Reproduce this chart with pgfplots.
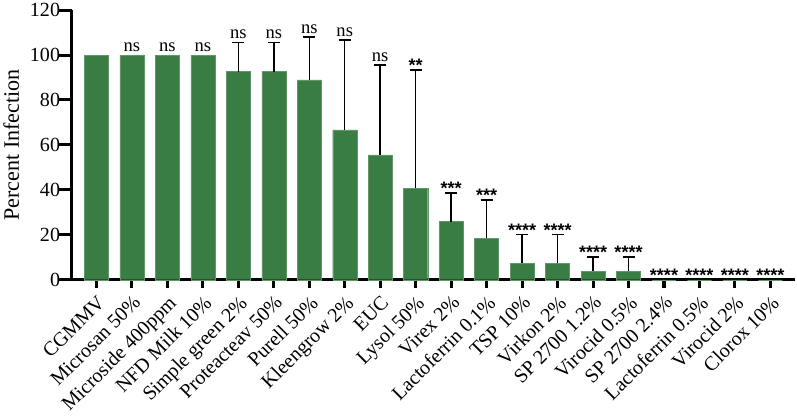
\documentclass[border=0pt]{standalone}
\usepackage{pgfplots}
\pgfplotsset{compat=1.18}
\usepackage{fontspec}
\setmainfont{Liberation Serif}
\newfontfamily\starfont{Liberation Sans}
\definecolor{barg}{RGB}{58,125,68}
\begin{document}
\begin{tikzpicture}
\begin{axis}[
 scale only axis, width=722pt, height=269pt,
 xmin=-0.7, xmax=19.7, ymin=0, ymax=120,
 axis x line*=bottom, axis y line*=left,
 axis line style={line width=3.5pt,-},
 ytick={0,20,...,120},
 xtick={0,...,19},
 xticklabels={CGMMV, Microsan 50\%, Microside 400ppm, NFD Milk 10\%, Simple green 2\%, Proteacteav 50\%, Purell 50\%, Kleengrow 2\%, EUC, Lysol 50\%, Virex 2\%, Lactoferrin 0.1\%, TSP 10\%, Virkon 2\%, SP 2700 1.2\%, Virocid 0.5\%, SP 2700 2.4\%, Lactoferrin 0.5\%, Virocid 2\%, Clorox 10\%},
 xticklabel style={yshift=-5pt, rotate=45, anchor=north east, inner sep=1pt},
 tick style={line width=3pt, black},
 major tick length=8pt,
 ytick style={/pgfplots/major tick length=13pt},
 tick align=outside,
 ticklabel style={font=\fontsize{20}{22}\selectfont},
 /pgf/number format/assume math mode=true,
 ylabel={Percent Infection},
 ylabel style={font=\fontsize{22}{24}\selectfont, yshift=4pt},
 clip=false,
]
\addplot[ybar, bar width=24pt, bar shift=0pt, fill=barg, draw=barg!80!white] coordinates {
(0,100) (1,100) (2,100) (3,100) (4,92.6) (5,92.6) (6,88.9) (7,66.7) (8,55.6) (9,40.7)
(10,25.9) (11,18.5) (12,7.4) (13,7.4) (14,3.7) (15,3.7) (16,0) (17,0) (18,0) (19,0)};
\addplot[draw=none, mark=none,
 error bars/.cd, y dir=plus, y explicit,
 error bar style={draw=black, line width=1.5pt},
 error mark options={rotate=90, draw=black, line width=1.5pt, mark size=6pt}] coordinates {
(4,92.6) +- (0,13.0)
(5,92.6) +- (0,13.0)
(6,88.9) +- (0,19.2)
(7,66.7) +- (0,40.0)
(8,55.6) +- (0,40.0)
(9,40.7) +- (0,52.6)
(10,25.9) +- (0,12.8)
(11,18.5) +- (0,17.0)
(12,7.4) +- (0,12.8)
(13,7.4) +- (0,12.8)
(14,3.7) +- (0,6.4)
(15,3.7) +- (0,6.4)};
\addplot[draw=none, mark=none, nodes near coords, point meta=explicit symbolic,
 nodes near coords style={anchor=south, font=\fontsize{18.5}{20}\selectfont}] coordinates {
(1,100) [ns] (2,100) [ns] (3,100) [ns] (4,105.6) [ns] (5,105.6) [ns] (6,108.1) [ns] (7,106.7) [ns] (8,95.6) [ns]};
\addplot[draw=none, mark=none, nodes near coords, point meta=explicit symbolic,
 nodes near coords style={anchor=south, inner sep=0pt, yshift=-2pt, font=\starfont\bfseries\fontsize{18}{20}\selectfont}] coordinates {
(9,93.3) [**] (10,38.7) [***] (11,35.5) [***] (12,20.2) [****] (13,20.2) [****] (14,10.1) [****] (15,10.1) [****]
(16,0) [****] (17,0) [****] (18,0) [****] (19,0) [****]};
\end{axis}
\end{tikzpicture}
\end{document}
